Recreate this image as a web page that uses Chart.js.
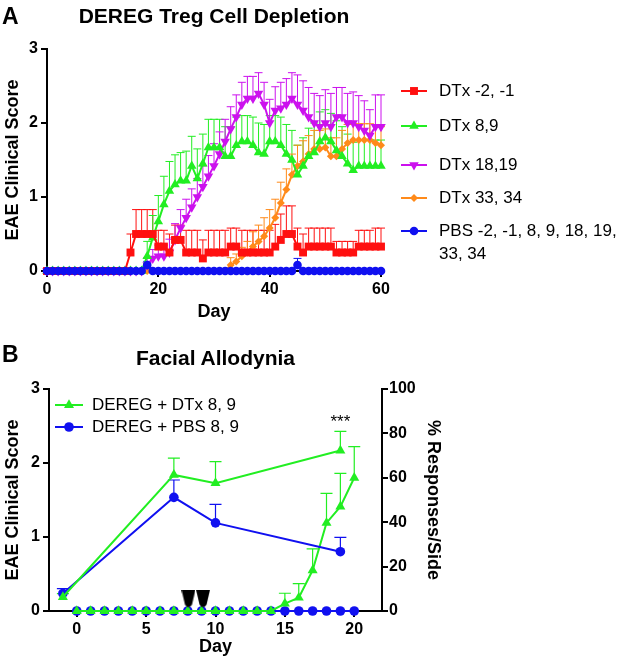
<!DOCTYPE html>
<html>
<head>
<meta charset="utf-8">
<script src="https://cdn.jsdelivr.net/npm/chart.js@4.4.0/dist/chart.umd.min.js"></script>
<style>
  body { margin: 0; background: #fff; }
  #page { position: relative; width: 625px; height: 664px; font-family: "Liberation Sans", Arial, sans-serif; }
  .lbl { position: absolute; font-weight: bold; color: #000; white-space: nowrap; }
  canvas { position: absolute; left: 0; }
</style>
</head>
<body>
<div id="page">
  <canvas id="chartA" width="625" height="330" style="top:0"></canvas>
  <canvas id="chartB" width="625" height="334" style="top:330px"></canvas>
  <div class="lbl" style="left:2px;top:3px;font-size:23px">A</div>
  <div class="lbl" style="left:0;top:4px;width:428px;text-align:center;font-size:21px">DEREG Treg Cell Depletion</div>
  <div class="lbl" style="left:2px;top:341px;font-size:23px">B</div>
  <div class="lbl" style="left:0;top:346px;width:431px;text-align:center;font-size:21px">Facial Allodynia</div>
</div>
<script>
"use strict";

// panel A - EAE clinical score per day
const daysA = [0,1,2,3,4,5,6,7,8,9,10,11,12,13,14,15,16,17,18,19,20,21,22,23,24,25,26,27,28,29,30,
  31,32,33,34,35,36,37,38,39,40,41,42,43,44,45,46,47,48,49,50,51,52,53,54,55,56,57,58,59,60];

const dtxMinus = [0,0,0,0,0,0,0,0,0,0,0,0,0,0,0,0.25,0.5,0.5,0.5,0.5,0.33,0.33,0.25,0.42,0.42,0.25,0.25,0.25,0.17,0.25,0.25,
  0.25,0.25,0.33,0.33,0.25,0.25,0.25,0.25,0.25,0.25,0.33,0.42,0.5,0.5,0.33,0.25,0.33,0.33,0.33,0.33,0.33,0.25,0.25,0.25,0.25,0.33,0.33,0.33,0.33,0.33];
const dtxMinusErr = [0,0,0,0,0,0,0,0,0,0,0,0,0,0,0,0.25,0.33,0.33,0.33,0.33,0.22,0.22,0.25,0.2,0.2,0.3,0.3,0.3,0.25,0.3,0.3,
  0.3,0.3,0.25,0.25,0.3,0.3,0.3,0.3,0.3,0.3,0.3,0.35,0.38,0.38,0.25,0.25,0.25,0.25,0.25,0.25,0.25,0.15,0.15,0.15,0.15,0.22,0.22,0.22,0.25,0.25];

const dtx89 = [0,0,0,0,0,0,0,0,0,0,0,0,0,0,0,0,0,0,0.2,0.45,0.67,0.9,1.08,1.17,1.22,1.22,1.42,1.25,1.45,1.67,1.67,
  1.67,1.55,1.55,1.7,1.75,1.75,1.7,1.6,1.58,1.75,1.75,1.7,1.58,1.5,1.3,1.42,1.55,1.6,1.75,1.8,1.75,1.63,1.55,1.45,1.36,1.42,1.42,1.42,1.42,1.42];
const dtx89Err = [0,0,0,0,0,0,0,0,0,0,0,0,0,0,0,0,0,0,0.2,0.3,0.35,0.38,0.4,0.4,0.38,0.4,0.4,0.4,0.4,0.38,0.38,
  0.38,0.4,0.4,0.38,0.35,0.35,0.38,0.4,0.4,0.35,0.35,0.38,0.4,0.4,0.4,0.38,0.38,0.4,0.4,0.38,0.38,0.4,0.4,0.4,0.38,0.35,0.35,0.35,0.35,0.35];

const dtx1819 = [0,0,0,0,0,0,0,0,0,0,0,0,0,0,0,0,0,0,0.08,0.17,0.2,0.2,0.25,0.42,0.58,0.72,0.86,1.0,1.14,1.28,1.42,
  1.58,1.75,1.92,2.08,2.25,2.33,2.33,2.4,2.25,2.0,2.17,2.2,2.25,2.33,2.25,2.17,2.08,2.0,1.95,2.0,1.95,2.08,2.08,2.0,2.0,1.95,1.9,1.83,1.95,1.95];
const dtx1819Err = [0,0,0,0,0,0,0,0,0,0,0,0,0,0,0,0,0,0,0.1,0.12,0.15,0.15,0.18,0.22,0.25,0.25,0.25,0.25,0.28,0.28,0.3,
  0.3,0.3,0.3,0.3,0.3,0.3,0.3,0.28,0.3,0.32,0.32,0.35,0.35,0.35,0.4,0.4,0.4,0.4,0.42,0.45,0.45,0.4,0.4,0.4,0.42,0.42,0.4,0.35,0.43,0.43];

const dtx3334 = [0,0,0,0,0,0,0,0,0,0,0,0,0,0,0,0,0,0,0,0,0,0,0,0,0,0,0,0,0,0,0,
  0,0,0.08,0.13,0.2,0.25,0.33,0.4,0.47,0.58,0.72,0.92,1.1,1.3,1.42,1.48,1.58,1.65,1.65,1.67,1.55,1.55,1.65,1.73,1.77,1.77,1.77,1.77,1.73,1.7];
const dtx3334Err = [0,0,0,0,0,0,0,0,0,0,0,0,0,0,0,0,0,0,0,0,0,0,0,0,0,0,0,0,0,0,0,
  0,0,0.1,0.1,0.12,0.15,0.2,0.22,0.25,0.25,0.25,0.28,0.28,0.28,0.28,0.28,0.25,0.25,0.25,0.25,0.25,0.25,0.25,0.25,0.22,0.22,0.22,0.22,0.25,0.25];

const pbs = [0,0,0,0,0,0,0,0,0,0,0,0,0,0,0,0,0,0,0.08,0,0,0,0,0,0,0,0,0,0,0,0,
  0,0,0,0,0,0,0,0,0,0,0,0,0,0,0.08,0,0,0,0,0,0,0,0,0,0,0,0,0,0,0];
const pbsErr = [0,0,0,0,0,0,0,0,0,0,0,0,0,0,0,0,0,0,0.05,0,0,0,0,0,0,0,0,0,0,0,0,
  0,0,0,0,0,0,0,0,0,0,0,0,0,0,0.09,0,0,0,0,0,0,0,0,0,0,0,0,0,0,0];

const dayTicksA = [0, 20, 40, 60];
const scoreTicks = [0, 1, 2, 3];

// panel B - EAE score (left) and % responses/side (right)
const daysB = [0,1,2,3,4,5,6,7,8,9,10,11,12,13,14,15,16,17,18,19,20];
const eaeDtx = [0,0,0,0,0,0,0,0,0,0,0,0,0,0,0,0.1,0.18,0.55,1.19,1.41,1.8];
const eaeDtxErr = [0,0,0,0,0,0,0,0,0,0,0,0,0,0,0,0.14,0.19,0.29,0.4,0.45,0.42];
const eaePbs = [0,0,0,0,0,0,0,0,0,0,0,0,0,0,0,0,0,0,0,0,0];

const allodyniaDays = [-1, 7, 10, 19];
const allodyniaDtx = [6.3, 61.3, 57.6, 72.3];
const allodyniaDtxErr = [1.5, 7.6, 9.7, 8.6];
const allodyniaPbs = [7.9, 51.2, 39.7, 26.7];
const allodyniaPbsErr = [2.2, 7.8, 8.3, 6.5];

const injectionDays = [8.05, 9.1];
const injectionMark = [0.16, 0.16];

const dayTicksB = [0, 5, 10, 15, 20];
const responseTicks = [0, 20, 40, 60, 80, 100];

const red = "#ff1010", green = "#22ee22", purple = "#cc11ee", orange = "#ff8a1a", blue = "#1010f0";
const fam = '"Liberation Sans", Arial, sans-serif';
const tickFont = { family: fam, size: 16, weight: "bold" };
const axisTitleFont = { family: fam, size: 18, weight: "bold" };

const pts = (xs, ys) => xs.map((x, i) => ({ x: x, y: ys[i] }));

// tall black arrowhead used to mark the DTx injections
const arrowHead = document.createElement("canvas");
arrowHead.width = 14;
arrowHead.height = 19;
(function() {
    const c = arrowHead.getContext("2d");
    c.fillStyle = "#000";
    c.beginPath();
    c.moveTo(0, 0);
    c.lineTo(14, 0);
    c.lineTo(10.5, 15);
    c.quadraticCurveTo(7, 20, 3.5, 15);
    c.closePath();
    c.fill();
})();

function series(label, xs, ys, err, color, style, radius, rot, order, yAxisID) {
    return {
        label: label, data: pts(xs, ys), errors: err,
        borderColor: color, backgroundColor: color,
        pointStyle: style, pointRadius: radius, pointRotation: rot || 0,
        pointBorderWidth: 0, borderWidth: 2, order: order,
        clip: false, yAxisID: yAxisID || "y"
    };
}

function gpAxis(extra) {
    return Object.assign({
        type: "linear",
        grid: { display: true, drawOnChartArea: false, drawTicks: true, tickLength: 6, color: "#000", lineWidth: 2 },
        border: { display: true, color: "#000", width: 2 },
        ticks: { color: "#000", font: tickFont, padding: 3 }
    }, extra);
}

// upward error bars
const errorBars = {
    id: "errorBars",
    beforeDatasetsDraw(chart, args, opts) {
        const ctx = chart.ctx;
        chart.data.datasets.forEach((ds, i) => {
            if (!ds.errors) return;
            const meta = chart.getDatasetMeta(i);
            const ys = chart.scales[meta.yAxisID];
            ctx.save();
            ctx.strokeStyle = ds.borderColor;
            ctx.lineWidth = opts.width || 1;
            meta.data.forEach((pt, j) => {
                const e = ds.errors[j];
                if (!e) return;
                const y1 = ys.getPixelForValue(ds.data[j].y + e);
                ctx.beginPath();
                ctx.moveTo(pt.x, pt.y);
                ctx.lineTo(pt.x, y1);
                ctx.moveTo(pt.x - opts.cap, y1);
                ctx.lineTo(pt.x + opts.cap, y1);
                ctx.stroke();
            });
            ctx.restore();
        });
    }
};

// legend drawn like the prism one: line with marker, then text
const gpLegend = {
    id: "gpLegend",
    afterDraw(chart, args, opts) {
        const ctx = chart.ctx;
        opts.items.forEach(it => {
            const ds = chart.data.datasets[it.dataset];
            ctx.save();
            ctx.strokeStyle = ds.borderColor;
            ctx.fillStyle = ds.backgroundColor;
            ctx.lineWidth = 2;
            ctx.beginPath();
            ctx.moveTo(it.x, it.y);
            ctx.lineTo(it.x + opts.lineLen, it.y);
            ctx.stroke();
            Chart.helpers.drawPoint(ctx, { pointStyle: ds.pointStyle, radius: ds.pointRadius, rotation: ds.pointRotation, borderWidth: 0 },
                it.x + opts.lineLen / 2, it.y);
            ctx.fillStyle = "#000";
            ctx.font = opts.font;
            ctx.textBaseline = "middle";
            it.text.forEach((t, k) => ctx.fillText(t, it.x + opts.lineLen + opts.gap, it.y + k * opts.lineHeight));
            ctx.restore();
        });
    }
};

// significance stars
const stars = {
    id: "stars",
    afterDraw(chart, args, opts) {
        const ctx = chart.ctx;
        const x = chart.scales.x.getPixelForValue(opts.x);
        const y = chart.scales[opts.axis].getPixelForValue(opts.value);
        ctx.save();
        ctx.fillStyle = "#000";
        ctx.font = opts.font;
        ctx.textAlign = "center";
        ctx.textBaseline = "bottom";
        ctx.fillText(opts.text, x, y - opts.gap);
        ctx.restore();
    }
};

new Chart(document.getElementById("chartA"), {
    type: "line",
    data: {
        datasets: [
            series("DTx -2, -1", daysA, dtxMinus, dtxMinusErr, red, "rect", 5.6, 0, 1),
            series("DTx 8,9", daysA, dtx89, dtx89Err, green, "triangle", 5.5, 0, 2),
            series("DTx 18,19", daysA, dtx1819, dtx1819Err, purple, "triangle", 5.5, 180, 3),
            series("DTx 33, 34", daysA, dtx3334, dtx3334Err, orange, "rectRot", 4, 0, 4),
            series("PBS -2, -1, 8, 9, 18, 19, 33, 34", daysA, pbs, pbsErr, blue, "circle", 4.3, 0, 0)
        ]
    },
    options: {
        responsive: false,
        animation: false,
        events: [],
        layout: { padding: { left: 0, top: 49, right: 244, bottom: 0 } },
        scales: {
            x: gpAxis({
                min: 0, max: 60,
                afterBuildTicks: s => { s.ticks = dayTicksA.map(v => ({ value: v })); },
                afterFit: s => { s.height = 59; },
                title: { display: true, text: "Day", color: "#000", font: axisTitleFont, padding: { top: 0, bottom: 7 } }
            }),
            y: gpAxis({
                min: 0, max: 3,
                afterBuildTicks: s => { s.ticks = scoreTicks.map(v => ({ value: v })); },
                afterFit: s => { s.width = 47; },
                title: { display: true, text: "EAE Clinical Score", color: "#000", font: axisTitleFont, padding: { top: 2, bottom: 0 } }
            })
        },
        plugins: {
            legend: { display: false },
            tooltip: { enabled: false },
            errorBars: { cap: 4, width: 1 },
            gpLegend: {
                lineLen: 26, gap: 12, lineHeight: 23, font: "17px " + fam,
                items: [
                    { dataset: 0, x: 401, y: 91, text: ["DTx -2, -1"] },
                    { dataset: 1, x: 401, y: 126, text: ["DTx 8,9"] },
                    { dataset: 2, x: 401, y: 165, text: ["DTx 18,19"] },
                    { dataset: 3, x: 401, y: 198, text: ["DTx 33, 34"] },
                    { dataset: 4, x: 401, y: 231, text: ["PBS -2, -1, 8, 9, 18, 19,", "33, 34"] }
                ]
            }
        }
    },
    plugins: [errorBars, gpLegend]
});

new Chart(document.getElementById("chartB"), {
    type: "line",
    data: {
        datasets: [
            series("DEREG + DTx 8, 9", allodyniaDays, allodyniaDtx, allodyniaDtxErr, green, "triangle", 5.8, 0, 1, "y2"),
            series("DEREG + PBS 8, 9", allodyniaDays, allodyniaPbs, allodyniaPbsErr, blue, "circle", 4.8, 0, 2, "y2"),
            series("EAE DTx 8, 9", daysB, eaeDtx, eaeDtxErr, green, "triangle", 5.8, 0, 3),
            series("EAE PBS 8, 9", daysB, eaePbs, null, blue, "circle", 4.8, 0, 4),
            Object.assign(series("DTx injection", injectionDays, injectionMark, null, "#000", arrowHead, 9, 0, 0), { showLine: false })
        ]
    },
    options: {
        responsive: false,
        animation: false,
        events: [],
        layout: { padding: { left: 0, top: 59, right: 179, bottom: 0 } },
        scales: {
            x: gpAxis({
                min: -2, max: 22,
                afterBuildTicks: s => { s.ticks = dayTicksB.map(v => ({ value: v })); },
                afterFit: s => { s.height = 53; },
                title: { display: true, text: "Day", color: "#000", font: axisTitleFont, padding: { top: 0, bottom: 6 } }
            }),
            y: gpAxis({
                min: 0, max: 3, position: "left",
                afterBuildTicks: s => { s.ticks = scoreTicks.map(v => ({ value: v })); },
                afterFit: s => { s.width = 49; },
                title: { display: true, text: "EAE Clinical Score", color: "#000", font: axisTitleFont, padding: { top: 2, bottom: 0 } }
            }),
            y2: gpAxis({
                min: 0, max: 100, position: "right",
                afterBuildTicks: s => { s.ticks = responseTicks.map(v => ({ value: v })); },
                afterFit: s => { s.width = 64; },
                ticks: { color: "#000", font: tickFont, padding: 1 },
                title: { display: true, text: "% Responses/Side", color: "#000", font: axisTitleFont, padding: { top: 2, bottom: 0 } }
            })
        },
        plugins: {
            legend: { display: false },
            tooltip: { enabled: false },
            errorBars: { cap: 6, width: 1.2 },
            gpLegend: {
                lineLen: 28, gap: 9, lineHeight: 23, font: "17px " + fam,
                items: [
                    { dataset: 0, x: 55, y: 75, text: ["DEREG + DTx 8, 9"] },
                    { dataset: 1, x: 55, y: 97, text: ["DEREG + PBS 8, 9"] }
                ]
            },
            stars: { text: "***", x: 19, axis: "y2", value: 80.9, gap: 1, font: "17px " + fam }
        }
    },
    plugins: [errorBars, gpLegend, stars]
});
</script>
</body>
</html>
